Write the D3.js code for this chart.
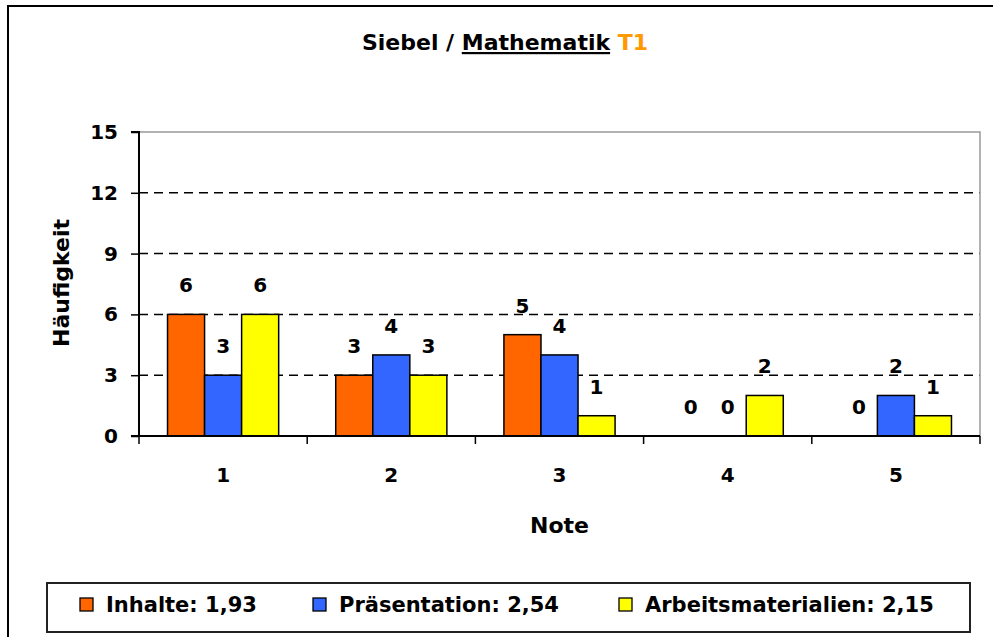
<!DOCTYPE html>
<html>
<head>
<meta charset="utf-8">
<script src="https://cdn.jsdelivr.net/npm/d3@7"></script>
<style>
  body { margin: 0; background: #fff; }
  text { font-family: "DejaVu Sans", sans-serif; font-weight: bold; }
</style>
</head>
<body>
<div id="chart"></div>
<script>
// data
const notes = ["1", "2", "3", "4", "5"];
const seriesNames = ["Inhalte", "Präsentation", "Arbeitsmaterialien"];
const seriesAverages = ["1,93", "2,54", "2,15"];
const inhalte = [6, 3, 5, 0, 0];
const praesentation = [3, 4, 4, 0, 2];
const arbeitsmaterialien = [6, 3, 1, 2, 1];
const yTicks = [0, 3, 6, 9, 12, 15];

const colors = ["#ff6600", "#3366ff", "#ffff00"];
const values = [inhalte, praesentation, arbeitsmaterialien];

const width = 993;
const height = 637;
const margin = {top: 132, right: 13, bottom: 201, left: 139};
const fontStack = "'DejaVu Sans', sans-serif";

const svg = d3.select("#chart")
    .append("svg")
    .attr("width", width)
    .attr("height", height);

svg.append("rect").attr("width", width).attr("height", height).attr("fill", "#fff");

// outer frame (runs off the right and bottom)
svg.append("path")
    .attr("d", "M8,640V6H996")
    .attr("fill", "none")
    .attr("stroke", "#000")
    .attr("stroke-width", 2);

// scales
const x0 = d3.scaleBand()
    .domain(notes)
    .range([margin.left, width - margin.right]);

const x1 = d3.scaleBand()
    .domain(d3.range(seriesNames.length))
    .range([0, x0.bandwidth()])
    .paddingOuter(0.77);

const y = d3.scaleLinear()
    .domain([0, 15])
    .range([height - margin.bottom, margin.top]);

// title
const title = svg.append("text")
    .attr("x", 505)
    .attr("y", 50)
    .attr("text-anchor", "middle")
    .attr("font-size", 22);
title.append("tspan").text("Siebel / ");
title.append("tspan").attr("text-decoration", "underline").text("Mathematik");
title.append("tspan").text(" ");
title.append("tspan").attr("fill", "#ff9900").text("T1");

// gridlines
svg.append("g")
    .selectAll("line")
    .data(yTicks.filter(d => d > 0 && d < 15))
    .join("line")
    .attr("x1", x0.range()[0])
    .attr("x2", x0.range()[1])
    .attr("y1", d => y(d))
    .attr("y2", d => y(d))
    .attr("stroke", "#000")
    .attr("stroke-width", 1.5)
    .attr("stroke-dasharray", "9,6");

// top and right border of plot
svg.append("path")
    .attr("d", `M${x0.range()[0]},${y(15)}H${x0.range()[1]}V${y(0)}`)
    .attr("fill", "none")
    .attr("stroke", "#999")
    .attr("stroke-width", 1.5);

// bars
const group = svg.append("g")
    .selectAll("g")
    .data(notes)
    .join("g")
    .attr("transform", d => `translate(${x0(d)},0)`);

group.selectAll("rect")
    .data((d, i) => values.map((v, s) => ({s: s, v: v[i]})))
    .join("rect")
    .attr("x", d => x1(d.s))
    .attr("y", d => y(d.v))
    .attr("width", x1.bandwidth())
    .attr("height", d => y(0) - y(d.v))
    .attr("fill", d => colors[d.s])
    .attr("stroke", "#000")
    .attr("stroke-width", d => d.v > 0 ? 1.5 : 0);

group.selectAll("text")
    .data((d, i) => values.map((v, s) => ({s: s, v: v[i]})))
    .join("text")
    .attr("x", d => x1(d.s) + x1.bandwidth() / 2)
    .attr("y", d => y(d.v) - 22)
    .attr("text-anchor", "middle")
    .attr("font-size", 20)
    .text(d => d.v);

// axes
const yAxis = svg.append("g")
    .attr("transform", `translate(${margin.left},0)`)
    .call(d3.axisLeft(y).tickValues(yTicks).tickSize(8).tickPadding(13));

const xAxis = svg.append("g")
    .attr("transform", `translate(0,${y(0)})`)
    .call(d3.axisBottom(x0).tickSize(0).tickPadding(32));

xAxis.selectAll(".tick").append("line")
    .attr("x1", -x0.bandwidth() / 2)
    .attr("x2", -x0.bandwidth() / 2)
    .attr("y2", 8)
    .attr("stroke", "#000")
    .attr("stroke-width", 1.5);
xAxis.append("line")
    .attr("x1", x0.range()[1]).attr("x2", x0.range()[1])
    .attr("y2", 8)
    .attr("stroke", "#000")
    .attr("stroke-width", 1.5);

[yAxis, xAxis].forEach(a => {
    a.select(".domain").attr("stroke-width", 2);
    a.selectAll(".tick line").attr("stroke-width", 1.5);
    a.selectAll("text")
        .attr("font-size", 20)
        .attr("font-family", fontStack)
        .attr("fill", "#000");
});
yAxis.select(".domain").attr("d", `M-8,${y(15)}H0V${y(0)}H-8`);
xAxis.select(".domain").attr("d", `M${x0.range()[0]},0H${x0.range()[1]}`);

// axis titles
svg.append("text")
    .attr("transform", "translate(69,283) rotate(-90)")
    .attr("text-anchor", "middle")
    .attr("font-size", 22)
    .text("Häufigkeit");

svg.append("text")
    .attr("x", (x0.range()[0] + x0.range()[1]) / 2)
    .attr("y", 533)
    .attr("text-anchor", "middle")
    .attr("font-size", 22)
    .text("Note");

// legend
svg.append("rect")
    .attr("x", 47).attr("y", 583)
    .attr("width", 923).attr("height", 49)
    .attr("fill", "#fff")
    .attr("stroke", "#222")
    .attr("stroke-width", 2);

const legendX = [80, 313, 619];
const legend = svg.append("g")
    .selectAll("g")
    .data(seriesNames)
    .join("g")
    .attr("transform", (d, i) => `translate(${legendX[i]},598)`);

legend.append("rect")
    .attr("width", 13).attr("height", 13)
    .attr("fill", (d, i) => colors[i])
    .attr("stroke", "#000")
    .attr("stroke-width", 1.3);

legend.append("text")
    .attr("x", 26)
    .attr("y", 14)
    .attr("font-size", 21)
    .text((d, i) => `${d}: ${seriesAverages[i]}`);
</script>
</body>
</html>
